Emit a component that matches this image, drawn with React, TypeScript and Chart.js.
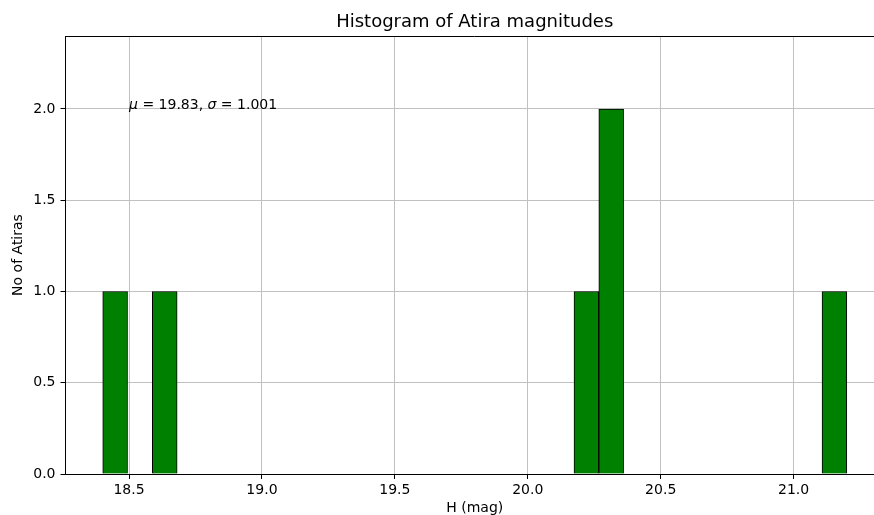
import React, { useEffect, useRef } from 'react';
import { Chart, registerables } from 'chart.js';

Chart.register(...registerables);

// Histogram bins that hold data (bin centers, H mag) and their counts
const binCenters = [18.4477, 18.6343, 20.2205, 20.3138, 21.1535];
const binCounts = [1, 1, 1, 2, 1];

const xTickValues = [18.5, 19.0, 19.5, 20.0, 20.5, 21.0];
const yTickValues = [0.0, 0.5, 1.0, 1.5, 2.0];
const xLimits = [18.261, 21.34];
const yLimits = [0, 2.4];

const titleText = 'Histogram of Atira magnitudes';
const xLabel = 'H (mag)';
const yLabel = 'No of Atiras';
const statMu = '19.83';
const statSigma = '1.001';
const statAnchor = [18.5, 2.0];

const FONT = '"DejaVu Sans", sans-serif';

const framePlugin = {
  id: 'frame',
  afterDraw(chart: any) {
    const { ctx, chartArea } = chart;
    ctx.save();
    ctx.strokeStyle = '#000';
    ctx.lineWidth = 1;
    ctx.beginPath();
    ctx.moveTo(chartArea.left, Math.round(chartArea.top) + 0.5);
    ctx.lineTo(chartArea.right, Math.round(chartArea.top) + 0.5);
    ctx.stroke();
    ctx.restore();
  },
};

const statsPlugin = {
  id: 'stats',
  afterDraw(chart: any) {
    const { ctx, scales } = chart;
    let x = scales.x.getPixelForValue(statAnchor[0]);
    const y = scales.y.getPixelForValue(statAnchor[1]);
    const parts: [string, boolean][] = [
      ['\u03bc', true],
      [' = ' + statMu + ', ', false],
      ['\u03c3', true],
      [' = ' + statSigma, false],
    ];
    ctx.save();
    ctx.fillStyle = '#000';
    ctx.textBaseline = 'alphabetic';
    ctx.textAlign = 'left';
    for (const [t, it] of parts) {
      ctx.font = (it ? 'italic ' : '') + '14px ' + FONT;
      ctx.fillText(t, x, y);
      x += ctx.measureText(t).width;
    }
    ctx.restore();
  },
};

export default function App() {
  const ref = useRef<HTMLCanvasElement | null>(null);

  useEffect(() => {
    if (!ref.current) return;
    const chart = new Chart(ref.current, {
      type: 'bar',
      data: {
        datasets: [
          {
            data: binCenters.map((c, i) => ({ x: c, y: binCounts[i] })),
            backgroundColor: '#008000',
            borderColor: '#000',
            borderWidth: 1,
            barPercentage: 1,
            categoryPercentage: 1,
          },
        ],
      },
      options: {
        animation: false,
        responsive: false,
        devicePixelRatio: 1,
        layout: { padding: { left: 0, top: 0, bottom: 0, right: 16 } },
        plugins: {
          legend: { display: false },
          tooltip: { enabled: false },
          title: {
            display: true,
            text: titleText,
            fullSize: false,
            color: '#000',
            font: { family: FONT, size: 18, weight: 'normal', lineHeight: 1 },
            padding: { top: 13, bottom: 5 },
          },
        },
        scales: {
          x: {
            type: 'linear',
            min: xLimits[0],
            max: xLimits[1],
            offset: false,
            z: 1,
            afterBuildTicks: (s: any) => {
              s.ticks = xTickValues.map((v) => ({ value: v }));
            },
            afterFit: (s: any) => {
              s.height = 41;
            },
            ticks: {
              color: '#000',
              font: { family: FONT, size: 14 },
              padding: 3,
              maxRotation: 0,
              autoSkip: false,
              callback: (v: any) => Number(v).toFixed(1),
            },
            grid: {
              offset: false,
              color: '#c0c0c0',
              lineWidth: 1,
              tickColor: '#000',
              tickLength: 5,
              tickWidth: 1,
            },
            border: { display: true, color: '#000', width: 1 },
            title: {
              display: true,
              text: xLabel,
              color: '#000',
              font: { family: FONT, size: 14, lineHeight: 1 },
              padding: { top: 0, bottom: 0 },
            },
          },
          y: {
            type: 'linear',
            min: yLimits[0],
            max: yLimits[1],
            z: 1,
            afterBuildTicks: (s: any) => {
              s.ticks = yTickValues.map((v) => ({ value: v }));
            },
            afterFit: (s: any) => {
              s.width = 65.5;
            },
            ticks: {
              color: '#000',
              font: { family: FONT, size: 14 },
              padding: 5,
              autoSkip: false,
              callback: (v: any) => Number(v).toFixed(1),
            },
            grid: {
              color: '#c0c0c0',
              lineWidth: 1,
              tickColor: '#000',
              tickLength: 5,
              tickWidth: 1,
            },
            border: { display: true, color: '#000', width: 1 },
            title: {
              display: true,
              text: yLabel,
              color: '#000',
              font: { family: FONT, size: 14, lineHeight: 1 },
              padding: { top: 11, bottom: 0 },
            },
          },
        },
      } as any,
      plugins: [framePlugin, statsPlugin],
    });
    return () => chart.destroy();
  }, []);

  return (
    <div
      style={{
        position: 'fixed',
        left: 0,
        top: 0,
        width: 874,
        height: 515,
        overflow: 'hidden',
        background: '#fff',
      }}
    >
      <canvas ref={ref} width={900} height={515} style={{ display: 'block', width: 900, height: 515 }} />
    </div>
  );
}
